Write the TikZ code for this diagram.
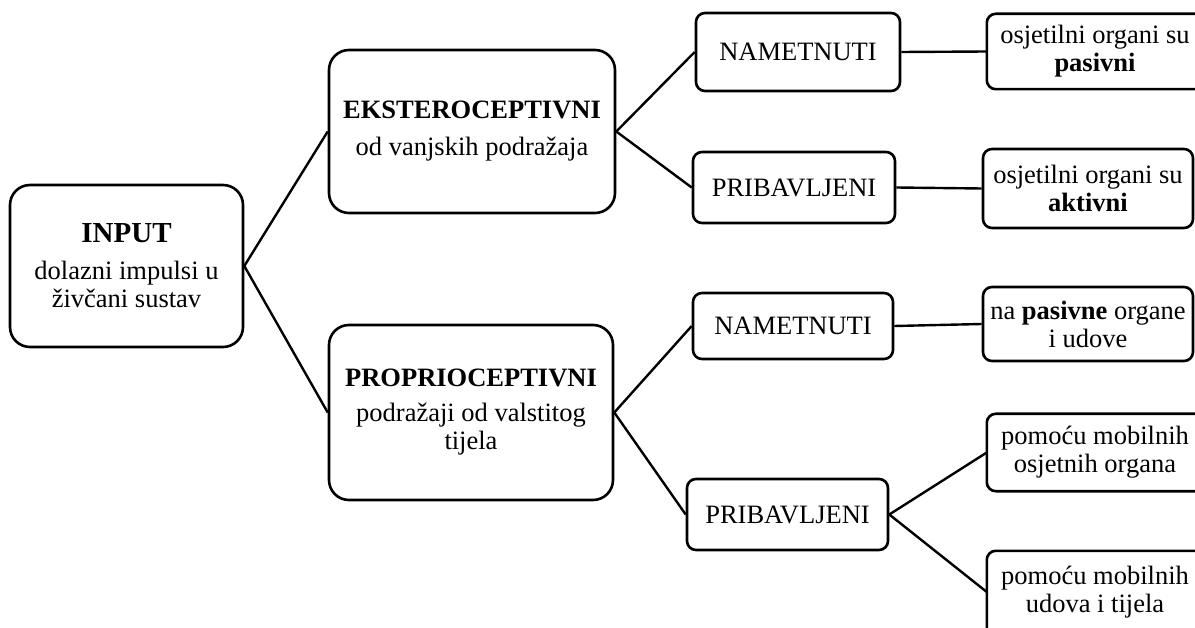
\documentclass[tikz,border=0pt]{standalone}
\usepackage{fontspec}
\setmainfont{Liberation Serif}
\tikzset{
  box/.style={draw=black, line width=2.6pt, fill=white, align=center, inner sep=0pt,
    font=\fontsize{26.5}{28}\selectfont},
  bigbox/.style={box, rounded corners=20pt},
  smallbox/.style={box, rounded corners=9pt},
  opentext/.style={align=center, inner sep=0pt, font=\fontsize{26.5}{28}\selectfont},
  boxline/.style={draw=black, line width=2.6pt, rounded corners=9pt},
  link/.style={draw=black, line width=2.4pt}
}
\begin{document}
\begin{tikzpicture}[x=1pt,y=-1pt]
\path[use as bounding box] (0,0) rectangle (1195,628);
\clip (0,0) rectangle (1195,628);
% level 0
\node[bigbox, minimum width=233pt, minimum height=162pt] (input) at (126.5,266)
  {{\fontsize{29}{32}\selectfont\bfseries INPUT}\\[9pt]dolazni impulsi u\\živčani sustav};
% level 1
\node[bigbox, minimum width=286pt, minimum height=163pt] (ekst) at (472,131.5)
  {\textbf{EKSTEROCEPTIVNI}\\[9pt]od vanjskih podražaja};
\node[bigbox, minimum width=284pt, minimum height=175pt] (prop) at (471,412.5)
  {\textbf{PROPRIOCEPTIVNI}\\[7pt]podražaji od valstitog\\tijela};
% level 2
\node[smallbox, minimum width=204pt, minimum height=78pt] (nam1) at (798,52) {NAMETNUTI};
\node[smallbox, minimum width=202pt, minimum height=71pt] (prib1) at (794,187.5) {PRIBAVLJENI};
\node[smallbox, minimum width=200pt, minimum height=66pt] (nam2) at (793,326) {NAMETNUTI};
\node[smallbox, minimum width=201pt, minimum height=71pt] (prib2) at (787.5,514.5) {PRIBAVLJENI};
% level 3 (boxes running past the right edge)
\node[opentext, minimum width=216pt, minimum height=75pt] (r1) at (1095,51.5)
  {osjetilni organi su\\\textbf{pasivni}};
\draw[boxline] (r1.south west) rectangle ([xshift=30pt]r1.north east);
\node[smallbox, minimum width=210pt, minimum height=79pt] (r2) at (1088,188.5)
  {osjetilni organi su\\\textbf{aktivni}};
\node[smallbox, minimum width=210pt, minimum height=74pt] (r3) at (1088,324)
  {na \textbf{pasivne} organe\\i udove};
\node[opentext, minimum width=216pt, minimum height=77pt] (r4) at (1095,452.5)
  {pomoću mobilnih\\osjetnih organa};
\draw[boxline] (r4.south west) rectangle ([xshift=30pt]r4.north east);
\node[opentext, minimum width=216pt, minimum height=82pt] (r5) at (1095,592)
  {pomoću mobilnih\\udova i tijela};
\draw[boxline] ([yshift=-30pt]r5.south west) rectangle ([xshift=30pt]r5.north east);
% connectors
\draw[link] (input.east) -- (ekst.west);
\draw[link] (input.east) -- (prop.west);
\draw[link] (ekst.east) -- (nam1.west);
\draw[link] (ekst.east) -- (prib1.west);
\draw[link] (prop.east) -- (nam2.west);
\draw[link] (prop.east) -- (prib2.west);
\draw[link] (nam1.east) -- (r1.west);
\draw[link] (prib1.east) -- (r2.west);
\draw[link] (nam2.east) -- (r3.west);
\draw[link] (prib2.east) -- (r4.west);
\draw[link] (prib2.east) -- (r5.west);
\end{tikzpicture}
\end{document}
